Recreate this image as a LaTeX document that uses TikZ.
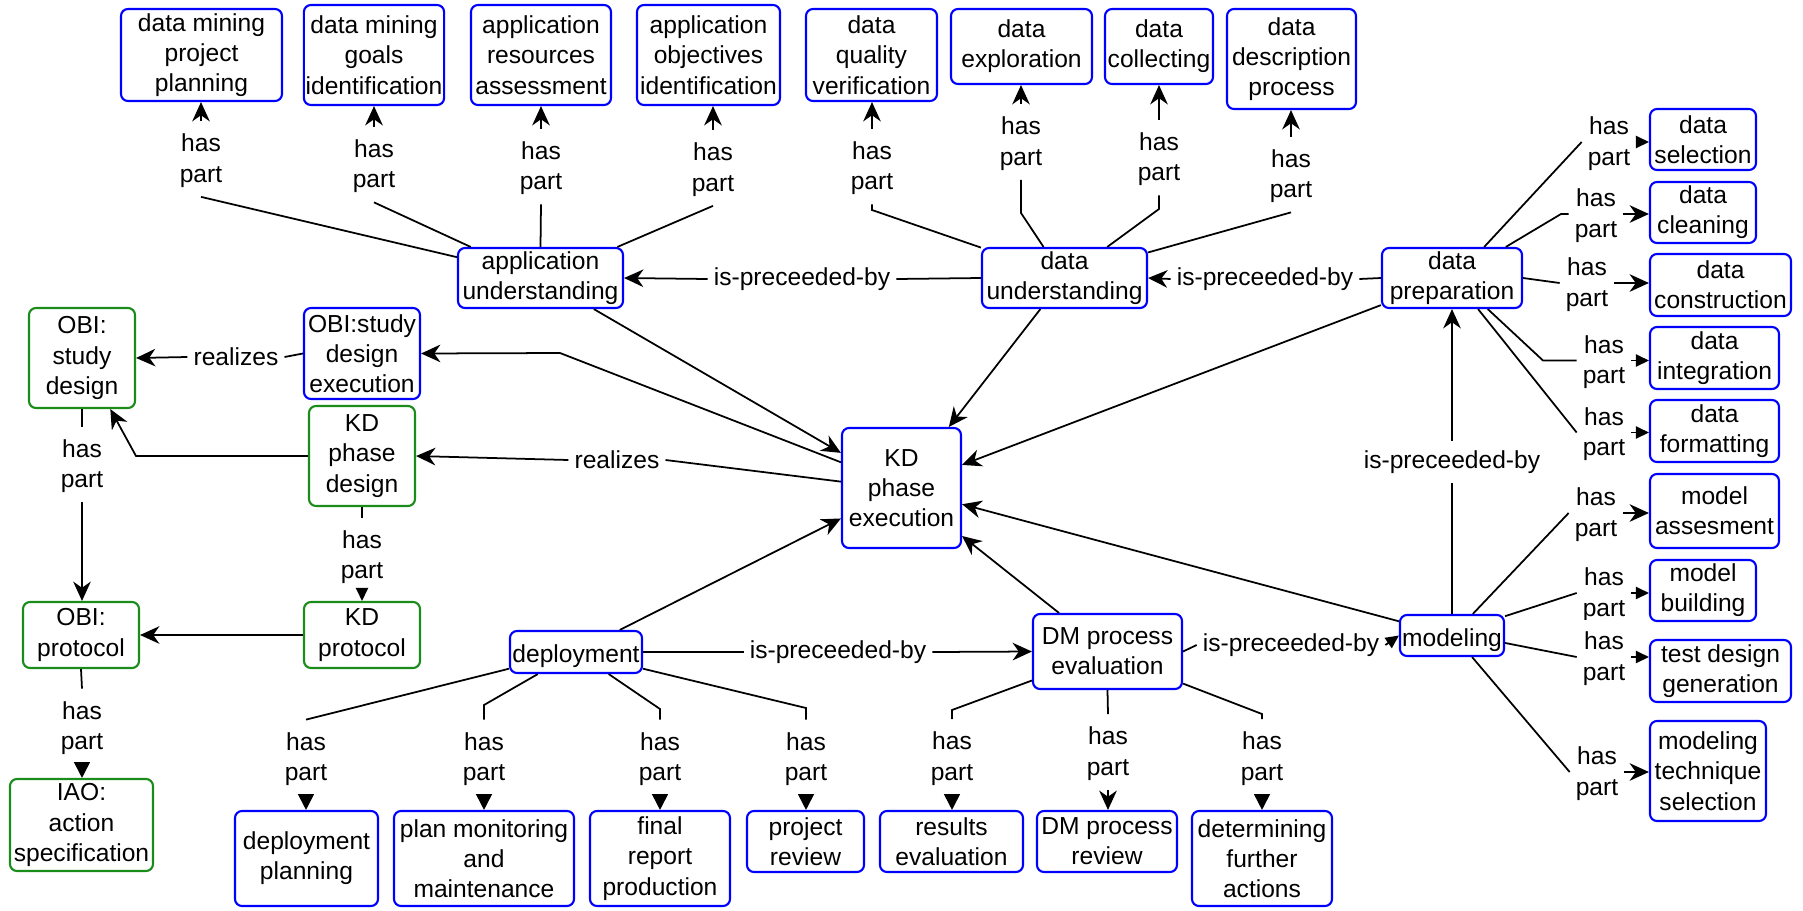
\documentclass[tikz,border=0pt]{standalone}
\usepackage{fontspec}
\setmainfont{Liberation Sans}
\usepackage{xcolor}
\definecolor{kdBlue}{HTML}{0000FF}
\definecolor{kdGreen}{HTML}{1A8C1A}
\usetikzlibrary{arrows.meta}

\begin{document}
\begin{tikzpicture}[x=0.02cm, y=-0.02cm, line width=1pt,
  font=\fontsize{14}{17.2}\selectfont,
  kdbox/.style={draw=kdBlue, line width=1.2pt, rounded corners=4pt, align=center, inner sep=1pt,
    execute at begin node=\rule{0pt}{15pt}},
  obibox/.style={kdbox, draw=kdGreen},
  rel/.style={fill=white, align=center, inner xsep=3pt, inner ysep=5pt},
  arr/.style={-{Stealth[length=11pt,width=10pt,inset=3.5pt]}},
  tri/.style={-{Triangle[length=9pt,width=9pt]}},
  tris/.style={-{Triangle[length=7.5pt,width=7pt]}}]
  \useasboundingbox (0,0) rectangle (1803,910);
  % phases and their parts
  \foreach \nm/\x/\y/\w/\h/\txt in {
      pplan/201.5/55/161/92/data mining\\project\\planning,
      goals/374/55/140/100/data mining\\goals\\identification,
      resrc/541/55/140/100/application\\resources\\assessment,
      objct/708.5/55/143/100/application\\objectives\\identification,
      qualv/871.5/55/131/92/data\\quality\\verification,
      explr/1021.5/46.5/141/75/data\\exploration,
      collc/1159/46.5/108/75/data\\collecting,
      descr/1291.5/59/129/100/data\\description\\process,
      appu/540.5/278/165/60/application\\understanding,
      datu/1064.5/278/165/60/data\\understanding,
      datp/1452/278/140/60/data\\preparation,
      dsel/1703/139.5/106/61/data\\selection,
      dcln/1703/212.5/106/61/data\\cleaning,
      dcon/1720.5/285/141/62/data\\construction,
      dint/1714.5/358/129/62/data\\integration,
      dfmt/1714.5/431/129/62/data\\formatting,
      sde/362/353.5/116/91/OBI:study\\design\\execution,
      kdpe/901.5/488/119/120/KD\\phase\\execution,
      dep/576/652/132/42/deployment,
      dmpe/1107.5/651.5/149/75/DM process\\evaluation,
      mdl/1452/635.5/104/41/modeling,
      mass/1714.5/511/129/74/model\\assesment,
      mbld/1703/590.5/106/61/model\\building,
      mtdg/1720.5/671/141/62/test design\\generation,
      mtec/1708/771/116/100/modeling\\technique\\selection,
      dpln/306.5/858.5/143/95/deployment\\planning,
      pmon/484/858.5/180/95/plan monitoring\\and\\maintenance,
      frep/660/858.5/140/95/final\\report\\production,
      prev/805.5/841.5/117/61/project\\review,
      reval/951.5/841.5/143/61/results\\evaluation,
      dmrev/1107/841.5/140/61/DM process\\review,
      dfa/1262/858.5/140/95/determining\\further\\actions}
    \node[kdbox, minimum width=\w*0.02cm, minimum height=\h*0.02cm] (\nm) at (\x,\y) {\txt};
  % design side (green)
  \foreach \nm/\x/\y/\w/\h/\txt in {
      obisd/82/358/106/100/OBI:\\study\\design,
      kdpd/362/456/106/100/KD\\phase\\design,
      obip/81/635/116/66/OBI:\\protocol,
      kdp/362/635/116/66/KD\\protocol,
      iao/81.5/825/143/92/IAO:\\action\\specification}
    \node[obibox, minimum width=\w*0.02cm, minimum height=\h*0.02cm] (\nm) at (\x,\y) {\txt};
  % has part labels
  \foreach \nm/\x/\y in {hp1/201/159, hp2/374/164.5, hp3/541/166.5, hp4/713/168,
      hp5/872/166.5, hp6/1021/142, hp7/1159/157.5, hp8/1291/174.5,
      hs1/1609/142, hs2/1596/214, hs3/1587/283, hs4/1604/360.5, hs5/1604/432.5,
      hm1/1596/513, hm2/1604/593, hm3/1604/657, hm4/1597/772,
      hd1/306/757.5, hd2/484/757.5, hd3/660/757.5, hd4/806/757.5,
      he1/952/757, he2/1108/752, he3/1262/757,
      hg1/82/464.5, hg2/362/555.5, hg3/82/726.5}
    \node[rel] (\nm) at (\x,\y) {\rule{0pt}{12pt}has\\part};
  \node[rel] (rz1) at (236,357) {realizes};
  \node[rel] (rz2) at (617,460) {realizes};
  \node[rel] (ip1) at (802,279) {is-preceeded-by};
  \node[rel] (ip2) at (1265,279) {is-preceeded-by};
  \node[rel] (ip3) at (838,652) {is-preceeded-by};
  \node[rel] (ip4) at (1291,645) {is-preceeded-by};
  \node[rel] (ip5) at (1452,462) {is-preceeded-by};

  % top row
  \foreach \l/\b in {hp1/pplan, hp2/goals, hp3/resrc, hp4/objct, hp5/qualv, hp6/explr, hp7/collc, hp8/descr}
    \draw[arr] (\l.north) -- (\l.north |- \b.south);
  \draw (appu.166) -- (hp1.south);
  \draw (appu.156) -- (hp2.south);
  \draw (appu.north) -- (hp3.south);
  \draw (appu.22) -- (hp4.south);
  \draw (hp5.south) -- (hp5.south |- 0,210) -- (datu.160);
  \draw (hp6.south) -- (hp6.south |- 0,213) -- (datu.124);
  \draw (hp7.south) -- (hp7.south |- 0,209) -- (datu.36);
  \draw (hp8.south) -- (datu.17);
  % right column
  \foreach \l/\b/\t in {hs1/dsel/tris, hs2/dcln/arr, hs3/dcon/arr, hs4/dint/tris, hs5/dfmt/tris,
      hm1/mass/arr, hm2/mbld/tris, hm3/mtdg/tris, hm4/mtec/arr}
    \draw[\t] (\l.east) -- (\l.east -| \b.west);
  \draw (datp.44) -- (hs1.west);
  \draw (datp.30) -- (hs2.west -| 1561,0) -- (hs2.west);
  \draw (datp.east) -- (hs3.west);
  \draw (datp.-41) -- (hs4.west -| 1543,0) -- (hs4.west);
  \draw (datp.-50) -- (hs5.west);
  \draw (mdl.46) -- (hm1.west);
  \draw (mdl.20) -- (hm2.west);
  \draw (mdl.-8) -- (hm3.west);
  \draw (mdl.-47) -- (hm4.west);
  % bottom row
  \foreach \l/\b/\t in {hd1/dpln/tri, hd2/pmon/tri, hd3/frep/tri, hd4/prev/tri,
      he1/reval/tri, he2/dmrev/arr, he3/dfa/tri}
    \draw[\t] (\l.south) -- (\l.south |- \b.north);
  \draw (dep.-166) -- (hd1.north);
  \draw (dep.-150) -- (hd2.north |- 0,705) -- (hd2.north);
  \draw (dep.-34) -- (hd3.north |- 0,709) -- (hd3.north);
  \draw (dep.-14) -- (hd4.north |- 0,708) -- (hd4.north);
  \draw (dmpe.-159) -- (he1.north |- 0,710) -- (he1.north);
  \draw (dmpe.south) -- (he2.north);
  \draw (dmpe.-23) -- (he3.north |- 0,714) -- (he3.north);
  % design side
  \draw (obisd.south) -- (hg1.north);
  \draw[arr] (hg1.south) -- (hg1.south |- obip.north);
  \draw (kdpd.south) -- (hg2.north);
  \draw[tris] (hg2.south) -- (hg2.south |- kdp.north);
  \draw (obip.south) -- (hg3.north);
  \draw[tri] (hg3.south) -- (hg3.south |- iao.north);
  \draw[arr] (kdp.west) -- (obip.east);
  \draw[arr] (kdpd.west) -- (136,456) -- (obisd.-61);
  \draw (sde.west) -- (rz1.east);
  \draw[arr] (rz1.west) -- (obisd.east);
  \draw[arr] (kdpe.157) -- (560,353) -- (sde.east);
  \draw (kdpe.174) -- (rz2.east);
  \draw[arr] (rz2.west) -- (kdpd.east);
  % phases into the KD phase execution
  \foreach \s in {appu, datu, datp, dep, dmpe, mdl}
    \draw[arr] (\s) -- (kdpe);
  % phase order
  \draw (datu.west) -- (ip1.east);
  \draw[arr] (ip1.west) -- (appu.east);
  \draw (datp.west) -- (ip2.east);
  \draw[arr] (ip2.west) -- (datu.east);
  \draw (dep.east) -- (ip3.west);
  \draw[arr] (ip3.east) -- (dmpe.west);
  \draw (dmpe.east) -- (ip4.west);
  \draw[tris] (ip4.east) -- (mdl.west);
  \draw (mdl.north) -- (ip5.south);
  \draw[arr] (ip5.north) -- (datp.south);
\end{tikzpicture}
\end{document}
